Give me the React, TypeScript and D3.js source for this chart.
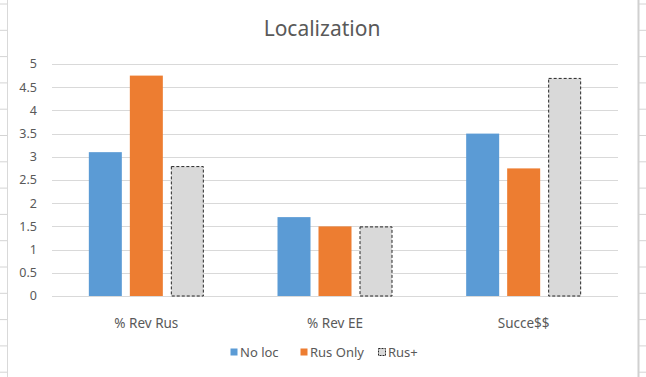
import React from "react";
import * as d3 from "d3";

const categories = ["% Rev Rus", "% Rev EE", "Succe$$"];
const seriesNames = ["No loc", "Rus Only", "Rus+"];
const noLoc = [3.1, 1.7, 3.5];
const rusOnly = [4.75, 1.5, 2.75];
const rusPlus = [2.8, 1.5, 4.7];
const yTicks = [0, 0.5, 1, 1.5, 2, 2.5, 3, 3.5, 4, 4.5, 5];
const title = "Localization";

const W = 646;
const H = 377;
const FONT = "'Noto Sans', 'Open Sans', sans-serif";
const TXT = "#595959";
const colors = ["#5B9BD5", "#ED7D31", "#D9D9D9"];

export default function App() {
  const left = 52;
  const right = 618;
  const top = 64;
  const bottom = 296;
  const y = d3.scaleLinear().domain([0, 5]).range([bottom, top]);
  const x0 = d3.scaleBand<string>().domain(categories).range([left, right]).paddingInner(0).paddingOuter(0);
  const groupW = 115;
  const x1 = d3
    .scaleBand<string>()
    .domain(seriesNames)
    .range([0, groupW])
    .paddingInner(8 / 41);
  const series = [noLoc, rusOnly, rusPlus];
  const rows = d3.range(4, H + 10, 26.3);

  const legendItems = [
    { name: seriesNames[0], x: 230 },
    { name: seriesNames[1], x: 300 },
    { name: seriesNames[2], x: 378 },
  ];

  return (
    <svg
      width={W}
      height={H}
      style={{ position: "absolute", left: 0, top: 0, display: "block", background: "#fff" }}
    >
      {rows.map((r, i) => (
        <g key={"row" + i}>
          <line x1={0} x2={7} y1={r} y2={r} stroke="#d4d4d4" strokeWidth={1} />
          <line x1={638} x2={646} y1={r} y2={r} stroke="#d4d4d4" strokeWidth={1} />
        </g>
      ))}
      <line x1={7.5} x2={7.5} y1={0} y2={H} stroke="#d9d9d9" />
      <line x1={638.5} x2={638.5} y1={0} y2={H} stroke="#d0d0d0" strokeWidth={2} />

      <text x={322} y={36} textAnchor="middle" fontFamily={FONT} fontSize={21} fill={TXT}>
        {title}
      </text>

      {yTicks.map((t) => (
        <g key={"t" + t}>
          <line
            x1={left}
            x2={right}
            y1={Math.round(y(t)) + 0.5}
            y2={Math.round(y(t)) + 0.5}
            stroke="#d9d9d9"
            strokeWidth={1}
          />
          <text
            x={37}
            y={y(t)}
            dy="0.35em"
            textAnchor="end"
            fontFamily={FONT}
            fontSize={12.5}
            fill={TXT}
          >
            {t}
          </text>
        </g>
      ))}

      {categories.map((c, ci) => {
        const gx = (x0(c) as number) + x0.bandwidth() / 2 - groupW / 2;
        return (
          <g key={c}>
            {series.map((s, si) => {
              const bx = gx + (x1(seriesNames[si]) as number);
              const by = y(s[ci]);
              const dashed = si === 2;
              return (
                <rect
                  key={si}
                  x={dashed ? bx + 0.5 : bx}
                  y={dashed ? by + 0.5 : by}
                  width={dashed ? x1.bandwidth() - 1 : x1.bandwidth()}
                  height={dashed ? bottom - by - 0.5 : bottom - by}
                  fill={colors[si]}
                  stroke={dashed ? "#262626" : "none"}
                  strokeWidth={1}
                  strokeDasharray={dashed ? "3,2" : undefined}
                />
              );
            })}
            <text
              x={(x0(c) as number) + x0.bandwidth() / 2}
              y={328}
              textAnchor="middle"
              fontFamily={FONT}
              fontSize={13.5}
              fill={TXT}
            >
              {c}
            </text>
          </g>
        );
      })}

      {legendItems.map((li, i) => (
        <g key={li.name}>
          <rect
            x={li.x + 0.5}
            y={348.5}
            width={7}
            height={7}
            fill={colors[i]}
            stroke={i === 2 ? "#262626" : "none"}
            strokeDasharray={i === 2 ? "2,1" : undefined}
          />
          <text x={li.x + 10} y={357} fontFamily={FONT} fontSize={13} fill={TXT}>
            {li.name}
          </text>
        </g>
      ))}
    </svg>
  );
}
